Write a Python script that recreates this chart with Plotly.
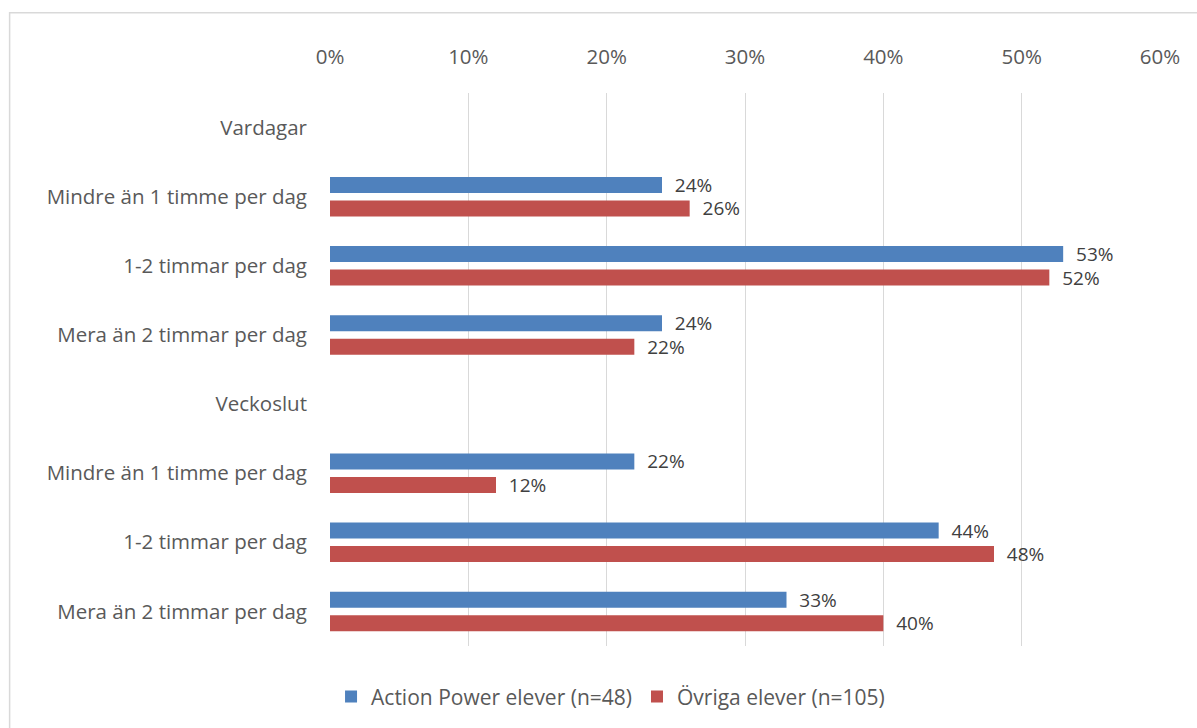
import plotly.graph_objects as go

# Rows of the chart, top to bottom (header rows carry no bars)
categories = [
    "Vardagar",
    "Mindre än 1 timme per dag",
    "1-2 timmar per dag",
    "Mera än 2 timmar per dag",
    "Veckoslut",
    "Mindre än 1 timme per dag",
    "1-2 timmar per dag",
    "Mera än 2 timmar per dag",
]
action_power = [None, 0.24, 0.53, 0.24, None, 0.22, 0.44, 0.33]
ovriga = [None, 0.26, 0.52, 0.22, None, 0.12, 0.48, 0.40]
series_names = ["Action Power elever (n=48)", "Övriga elever (n=105)"]
x_ticks = [0, 0.1, 0.2, 0.3, 0.4, 0.5, 0.6]

rows = list(range(len(categories)))
FONT = "'Open Sans', sans-serif"
SIZE = 20.5

fig = go.Figure()
for name, vals, color in [
    (series_names[0], action_power, "#4F81BD"),
    (series_names[1], ovriga, "#C0504D"),
]:
    ys = [r for r, v in zip(rows, vals) if v is not None]
    xs = [v for v in vals if v is not None]
    fig.add_trace(go.Bar(
        x=xs, y=ys, orientation="h", name=name,
        marker=dict(color=color, line=dict(width=0)),
        texttemplate="  %{x:.0%}", textposition="outside",
        constraintext="none",
        textfont=dict(size=19, color="#404040", family=FONT),
        cliponaxis=False, hoverinfo="skip",
    ))

fig.update_layout(
    width=1197, height=728,
    margin=dict(l=330, r=37, t=93, b=81),
    paper_bgcolor="white", plot_bgcolor="white",
    barmode="group", bargap=0.32, bargroupgap=0.32,
    font=dict(family=FONT, size=SIZE, color="#595959"),
    showlegend=True,
    legend=dict(
        orientation="h", x=0.338, y=-0.09, xanchor="center", yanchor="middle",
        font=dict(size=21, color="#595959", family=FONT),
        itemwidth=30, traceorder="normal",
    ),
    shapes=[dict(
        type="rect", xref="paper", yref="paper",
        x0=-0.386, x1=1.2, y0=-0.3, y1=1.145,
        line=dict(color="#d9d9d9", width=1.5), fillcolor="rgba(0,0,0,0)",
        layer="below",
    )],
)

fig.update_xaxes(
    side="top", range=[0, 0.6], tickvals=x_ticks, tickformat=".0%",
    showgrid=True, gridcolor="#d9d9d9", gridwidth=1.3,
    zeroline=False, showline=False, ticks="",
    ticklabelstandoff=24, tickfont=dict(size=SIZE, color="#595959"),
)
fig.update_yaxes(
    tickvals=rows, ticktext=categories, range=[len(categories) - 0.5, -0.5],
    showgrid=False, zeroline=False, showline=False, ticks="",
    ticklabelstandoff=22, tickfont=dict(size=SIZE, color="#595959"),
)

fig.write_html("out.html")
